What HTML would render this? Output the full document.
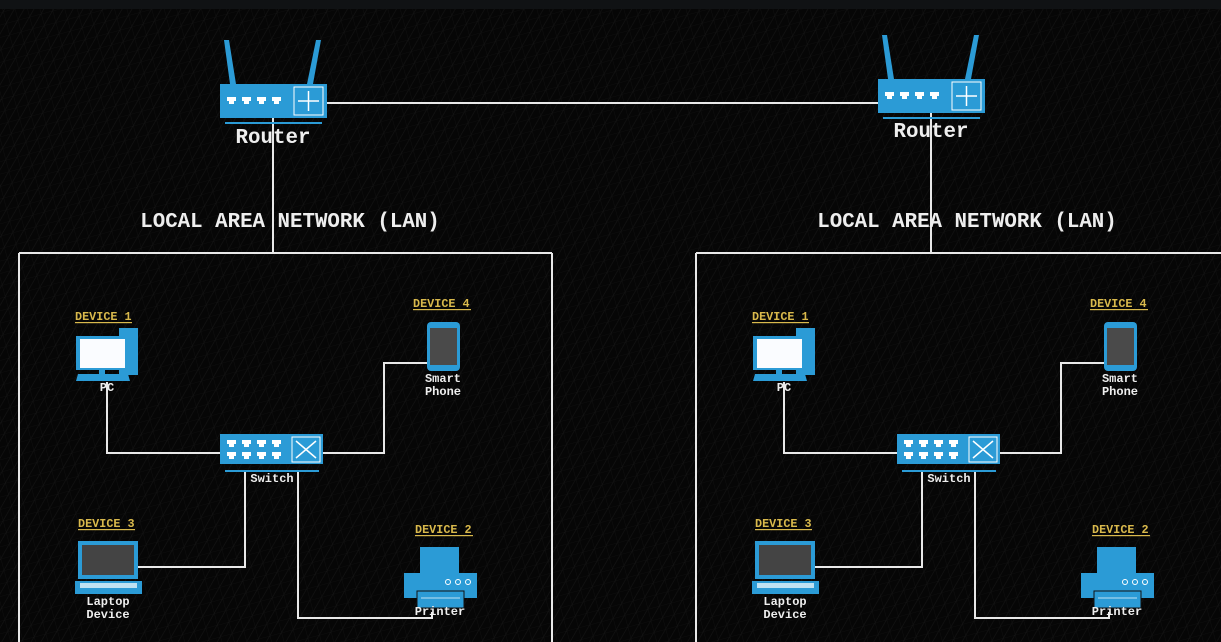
<!DOCTYPE html>
<html><head><meta charset="utf-8"><style>
html,body{margin:0;padding:0;background:#060606;}
svg{display:block}
text{font-family:"Liberation Mono","DejaVu Sans Mono",monospace;}
</style></head><body>
<svg width="1221" height="642" viewBox="0 0 1221 642" xmlns="http://www.w3.org/2000/svg">
<defs>
<pattern id="grid" width="12" height="12" patternUnits="userSpaceOnUse" patternTransform="rotate(-15)">
<path d="M0 0H12M0 0V12M0 12L12 0" stroke="#1a1a1a" stroke-width="0.6" fill="none"/>
</pattern>
<g id="router">
<polygon points="4,-44 9,-44 16,0 10,0" fill="#2b9bd6"/>
<polygon points="96,-44 101,-44 93,0 87,0" fill="#2b9bd6"/>
<rect x="0" y="0" width="107" height="34" fill="#2b9bd6"/>
<g fill="#fff">
<rect x="7" y="13" width="9" height="4"/><rect x="9" y="17" width="5" height="3"/>
<rect x="22" y="13" width="9" height="4"/><rect x="24" y="17" width="5" height="3"/>
<rect x="37" y="13" width="9" height="4"/><rect x="39" y="17" width="5" height="3"/>
<rect x="52" y="13" width="9" height="4"/><rect x="54" y="17" width="5" height="3"/>
</g>
<rect x="74" y="3" width="29" height="28" fill="none" stroke="#fff" stroke-width="1"/>
<path d="M88.5 7V27M78 17H99" stroke="#fff" stroke-width="1.5"/>
<rect x="5" y="38" width="97" height="2" fill="#2b9bd6"/>
</g>
<g id="lan">
<line x1="19" y1="253" x2="552" y2="253" stroke="#e8e8e8" stroke-width="2"/>
<line x1="19" y1="253" x2="19" y2="642" stroke="#e8e8e8" stroke-width="2"/>
<line x1="552" y1="253" x2="552" y2="642" stroke="#e8e8e8" stroke-width="2"/>
<text x="290" y="227" font-size="20.8" font-weight="bold" fill="#eee" text-anchor="middle">LOCAL AREA NETWORK (LAN)</text>
<g fill="none" stroke="#e8e8e8" stroke-width="2">
<polyline points="107,382 107,453 220,453"/>
<polyline points="323,453 384,453 384,363 427,363"/>
<polyline points="245,472 245,567 138,567"/>
<polyline points="298,472 298,618 432,618 432,612"/>
</g>
<g font-size="11.8" font-weight="bold" fill="#d9b94c">
<text x="75" y="320">DEVICE 1</text><rect x="75" y="322" width="57" height="1.2"/>
<text x="413" y="307">DEVICE 4</text><rect x="413" y="309" width="58" height="1.2"/>
<text x="78" y="527">DEVICE 3</text><rect x="78" y="529" width="57" height="1.2"/>
<text x="415" y="533">DEVICE 2</text><rect x="415" y="535" width="58" height="1.2"/>
</g>
<!-- PC -->
<rect x="119" y="328" width="19" height="47" fill="#2b9bd6"/>
<rect x="76" y="336" width="52" height="34" fill="#2b9bd6"/>
<rect x="80" y="339" width="45" height="29" fill="#fafcff"/>
<rect x="99" y="370" width="6" height="4" fill="#2b9bd6"/>
<polygon points="78,374 128,374 130,381 76,381" fill="#2b9bd6"/>
<!-- phone -->
<rect x="427" y="322" width="33" height="49" rx="4" fill="#2b9bd6"/>
<rect x="430" y="328" width="27" height="37" fill="#4a4a4a"/>
<!-- switch -->
<rect x="220" y="434" width="103" height="30" fill="#2b9bd6"/>
<g fill="#fff">
<rect x="227" y="440" width="9" height="4"/><rect x="229" y="444" width="5" height="3"/>
<rect x="242" y="440" width="9" height="4"/><rect x="244" y="444" width="5" height="3"/>
<rect x="257" y="440" width="9" height="4"/><rect x="259" y="444" width="5" height="3"/>
<rect x="272" y="440" width="9" height="4"/><rect x="274" y="444" width="5" height="3"/>
<rect x="227" y="452" width="9" height="4"/><rect x="229" y="456" width="5" height="3"/>
<rect x="242" y="452" width="9" height="4"/><rect x="244" y="456" width="5" height="3"/>
<rect x="257" y="452" width="9" height="4"/><rect x="259" y="456" width="5" height="3"/>
<rect x="272" y="452" width="9" height="4"/><rect x="274" y="456" width="5" height="3"/>
</g>
<rect x="292" y="437" width="28" height="25" fill="none" stroke="#fff" stroke-width="1"/>
<path d="M296 441L316 458M316 441L296 458" stroke="#fff" stroke-width="1.5"/>
<rect x="225" y="470" width="94" height="2" fill="#2b9bd6"/>
<!-- laptop -->
<rect x="78" y="541" width="60" height="38" fill="#2b9bd6"/>
<rect x="82" y="545" width="52" height="30" fill="#444"/>
<rect x="75" y="581" width="67" height="13" fill="#2b9bd6"/>
<rect x="80" y="583" width="57" height="5" fill="#bfe2f3"/>
<!-- printer -->
<rect x="420" y="547" width="39" height="26" fill="#2b9bd6"/>
<rect x="404" y="573" width="73" height="25" fill="#2b9bd6"/>
<g fill="none" stroke="#fff" stroke-width="1"><circle cx="448" cy="582" r="2.5"/><circle cx="458" cy="582" r="2.5"/><circle cx="468" cy="582" r="2.5"/></g>
<rect x="417" y="591" width="47" height="17" fill="#2b9bd6" stroke="#111" stroke-width="1"/>
<line x1="421" y1="598" x2="460" y2="598" stroke="#bfe2f3" stroke-width="1"/>
<g font-size="12" font-weight="bold" fill="#eee" text-anchor="middle">
<text x="107" y="391">PC</text>
<text x="443" y="382">Smart</text><text x="443" y="395">Phone</text>
<text x="272" y="482">Switch</text>
<text x="108" y="605">Laptop</text><text x="108" y="618">Device</text>
<text x="440" y="615">Printer</text>
</g>
</g>
</defs>
<rect width="1221" height="642" fill="#060606"/>
<rect width="1221" height="642" fill="url(#grid)" opacity="0.8"/>
<rect width="1221" height="9" fill="#101214"/>
<line x1="326" y1="103" x2="878" y2="103" stroke="#e8e8e8" stroke-width="2"/>
<line x1="273" y1="118" x2="273" y2="253" stroke="#e8e8e8" stroke-width="2"/>
<line x1="931" y1="112" x2="931" y2="253" stroke="#e8e8e8" stroke-width="2"/>
<use href="#router" x="220" y="84"/>
<use href="#router" x="878" y="79"/>
<text x="273" y="143" font-size="20.8" font-weight="bold" fill="#eee" text-anchor="middle">Router</text>
<text x="931" y="137" font-size="20.8" font-weight="bold" fill="#eee" text-anchor="middle">Router</text>
<use href="#lan"/>
<use href="#lan" x="677"/>
</svg>
</body></html>
